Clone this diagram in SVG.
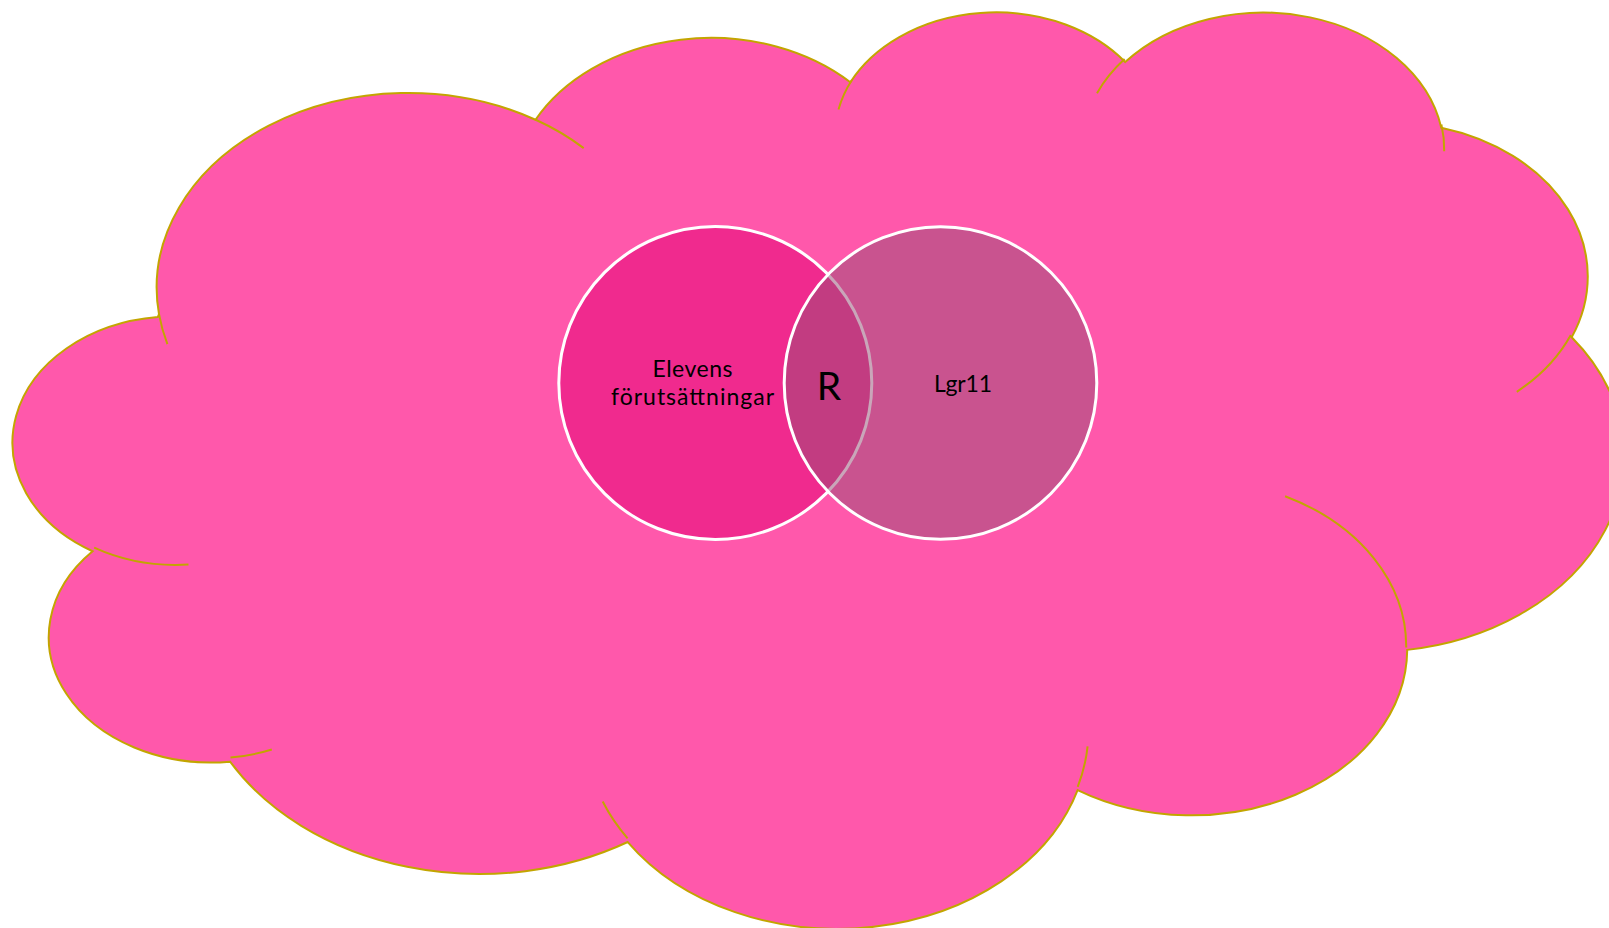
<svg xmlns="http://www.w3.org/2000/svg" width="1609" height="928" viewBox="0 0 1609 928">
  <style>
    .cloud { fill: #FF58AB; stroke: #C3A500; stroke-width: 2; stroke-linejoin: miter; }
    .tail { fill: none; stroke: #C3A500; stroke-width: 2; }
    .venn { stroke: #FFFFFF; stroke-width: 3; }
    .lbl { font-family: Lato, "Open Sans", "Liberation Sans", sans-serif; fill: #000000; text-anchor: middle; }
  </style>
  <rect x="0" y="0" width="1609" height="928" fill="#FFFFFF"/>
  <g id="cloud">
    <path class="cloud" d="M 158.99 314.13
      A 251.57 194.88 0 0 1 535.49 119.75
      A 198.67 154.10 0 0 1 850.36 82.21
      A 162.61 126.07 0 0 1 1125.18 62.02
      A 180.94 139.85 0 0 1 1441.29 127.65
      A 198.67 154.23 0 0 1 1571.69 337.25
      A 252.39 195.52 0 0 1 1407.23 649.87
      A 215.51 166.83 0 0 1 1077.61 790.05
      A 251.53 195.41 0 0 1 627.75 842.03
      A 287.59 223.58 0 0 1 230.08 761.65
      A 162.42 125.50 0 0 1 92.59 551.25
      A 161.86 126.07 0 0 1 157.76 317.05 Z"/>
    <path class="tail" d="M 188.5 564.5 A 161.86 126.07 0 0 1 94.2 547.6"/>
    <path class="tail" d="M 271.8 749.5 A 162.42 125.50 0 0 1 230.5 757.6"/>
    <path class="tail" d="M 627.6 838.3 A 251.53 195.41 0 0 1 602.7 801.5"/>
    <path class="tail" d="M 1087.6 746.3 A 251.53 195.41 0 0 1 1077.7 786.8"/>
    <path class="tail" d="M 1285.1 496.2 A 215.51 166.83 0 0 1 1406.2 647.5"/>
    <path class="tail" d="M 1570.8 335.0 A 198.67 154.23 0 0 1 1516.8 391.8"/>
    <path class="tail" d="M 1441.4 124.5 A 180.94 139.85 0 0 1 1444.2 151.3"/>
    <path class="tail" d="M 1097.0 93.2 A 180.94 139.85 0 0 1 1124.6 59.0"/>
    <path class="tail" d="M 838.5 109.5 A 162.61 126.07 0 0 1 851.9 80.0"/>
    <path class="tail" d="M 535.2 119.5 A 251.57 194.88 0 0 1 583.7 148.1"/>
    <path class="tail" d="M 167.4 344.2 A 251.57 194.88 0 0 1 159.0 314.2"/>
  </g>
  <g id="venn-left">
    <circle class="venn" cx="715.3" cy="383" r="156.5" fill="#F02A8E"/>
  </g>
  <g id="venn-right">
    <circle class="venn" cx="940.5" cy="383" r="156.3" fill="#934E73" fill-opacity="0.5"/>
  </g>
  <g id="labels">
    <text class="lbl" x="692.5" y="376.7" font-size="23" textLength="80">Elevens</text>
    <text class="lbl" x="692.5" y="405" font-size="23" textLength="163">förutsättningar</text>
    <text class="lbl" x="829" y="399.5" font-size="39">R</text>
    <text class="lbl" x="963" y="391.5" font-size="23" textLength="58">Lgr11</text>
  </g>
</svg>
